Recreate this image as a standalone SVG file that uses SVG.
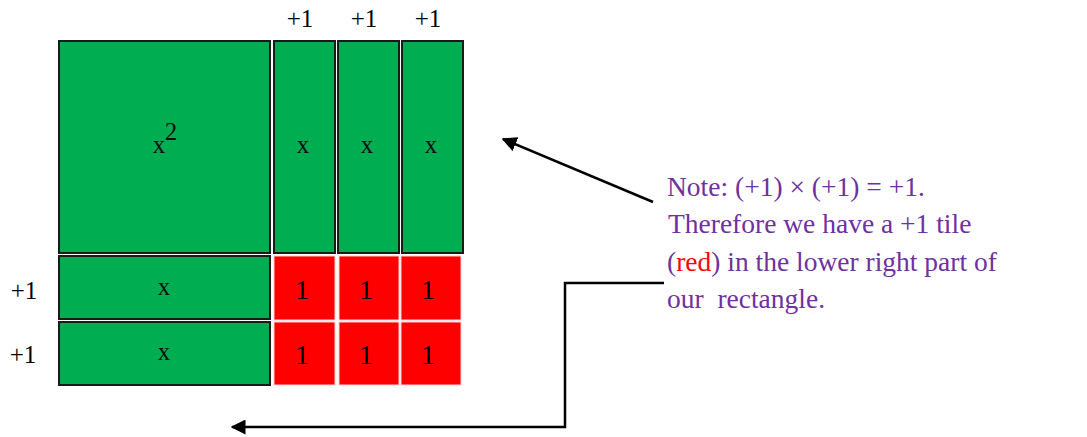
<svg xmlns="http://www.w3.org/2000/svg" width="1087" height="437" viewBox="0 0 1087 437">
<style>
.g{fill:#00AD50;stroke:#1a1a1a;stroke-width:2}
.r{fill:#FF0000;stroke:#ffd0d0;stroke-width:1}
.tx{font-family:"Liberation Serif","Times New Roman",serif;font-size:25px;fill:#111;text-anchor:middle}
.one{font-family:"Liberation Serif","Times New Roman",serif;font-size:28px;fill:#000;text-anchor:middle}
.lab{font-family:"Liberation Serif","Times New Roman",serif;font-size:25px;fill:#000;text-anchor:middle}
.note{font-family:"Liberation Serif","Times New Roman",serif;font-size:27.5px;fill:#7030A0}
.c{fill:none;stroke:#000;stroke-width:2.5}
</style>
<defs>
<marker id="ah" viewBox="0 0 10 10" refX="9" refY="5" markerWidth="6" markerHeight="6" markerUnits="strokeWidth" orient="auto">
<path d="M0,0 L10,5 L0,10 z" fill="#000"/>
</marker>
</defs>
<rect width="1087" height="437" fill="#fff"/>
<g id="labels">
<text class="lab" x="300" y="27">+1</text>
<text class="lab" x="364" y="27">+1</text>
<text class="lab" x="428" y="27">+1</text>
<text class="lab" x="24" y="299">+1</text>
<text class="lab" x="23" y="363">+1</text>
</g>
<g id="x2"><rect class="g" x="59" y="41" width="211" height="212"/><text class="tx" x="159" y="153">x</text><text class="tx" x="171" y="140" font-size="18">2</text></g>
<g id="xcol1"><rect class="g" x="274" y="41" width="61" height="212"/><text class="tx" x="303" y="153">x</text></g>
<g id="xcol2"><rect class="g" x="338" y="41" width="61" height="212"/><text class="tx" x="367" y="153">x</text></g>
<g id="xcol3"><rect class="g" x="402" y="41" width="61" height="212"/><text class="tx" x="431" y="153">x</text></g>
<g id="xrow1"><rect class="g" x="59" y="256" width="211" height="63"/><text class="tx" x="164" y="295">x</text></g>
<g id="xrow2"><rect class="g" x="59" y="322" width="211" height="63"/><text class="tx" x="164" y="360">x</text></g>
<g id="u11"><rect class="r" x="274" y="256" width="61" height="64"/><text class="one" x="302" y="299">1</text></g>
<g id="u12"><rect class="r" x="339" y="256" width="60" height="64"/><text class="one" x="366" y="299">1</text></g>
<g id="u13"><rect class="r" x="401" y="256" width="60" height="64"/><text class="one" x="428" y="299">1</text></g>
<g id="u21"><rect class="r" x="274" y="322" width="61" height="63"/><text class="one" x="302" y="364">1</text></g>
<g id="u22"><rect class="r" x="339" y="322" width="60" height="63"/><text class="one" x="366" y="364">1</text></g>
<g id="u23"><rect class="r" x="401" y="322" width="60" height="63"/><text class="one" x="428" y="364">1</text></g>
<g id="note">
<text class="note" x="667" y="196">Note: (+1) × (+1) = +1.</text>
<text class="note" x="668" y="233">Therefore we have a +1 tile</text>
<text class="note" x="667" y="271">(<tspan fill="#FF0000">red</tspan>) in the lower right part of</text>
<text class="note" x="667" y="308" xml:space="preserve">our  rectangle.</text>
</g>
<g id="connectors">
<line class="c" x1="653" y1="202" x2="503" y2="139" marker-end="url(#ah)"/>
<polyline class="c" points="664,283 565,283 565,427 232,427" marker-end="url(#ah)"/>
</g>
</svg>
